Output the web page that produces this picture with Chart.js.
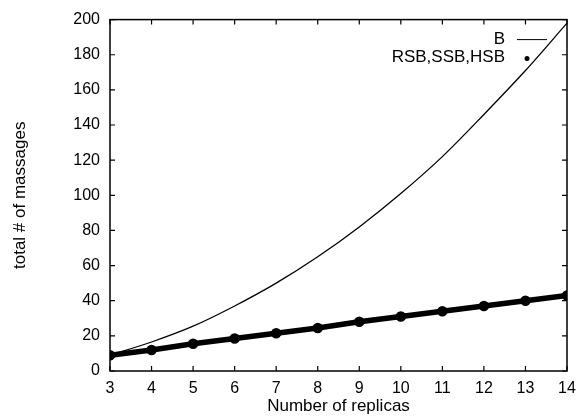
<!DOCTYPE html>
<html>
<head>
<meta charset="utf-8">
<script src="https://cdn.jsdelivr.net/npm/chart.js@4.4.1/dist/chart.umd.min.js"></script>
<style>
  html, body { margin: 0; padding: 0; background: #fff; }
  #wrap { width: 585px; height: 417px; }
</style>
</head>
<body>
<div id="wrap"><canvas id="myChart" width="585" height="417"></canvas></div>
<script>
// replicas on the x axis
var replicas = [3, 4, 5, 6, 7, 8, 9, 10, 11, 12, 13, 14];
// total messages
var bValues = [9, 16.5, 25.5, 37, 50, 65, 82, 101, 122, 146, 171, 198];
var rsbValues = [9, 12, 15.5, 18.5, 21.5, 24.5, 28, 31, 34, 37, 40, 43];
var yTicks = [0, 20, 40, 60, 80, 100, 120, 140, 160, 180, 200];

var seriesNames = ['B', 'RSB,SSB,HSB'];

function toPoints(ys) {
    return replicas.map(function(x, i) { return { x: x, y: ys[i] }; });
}

Chart.defaults.font.family = '"Liberation Sans", Arial, sans-serif';
Chart.defaults.font.size = 16;
Chart.defaults.color = '#000';

// frame, inner tick marks and the little legend at top right
var framePlugin = {
    id: 'frame',
    afterDraw: function(chart) {
        var c = chart.ctx, a = chart.chartArea;
        var xs = chart.scales.x, ys = chart.scales.y;
        var len = 5;
        c.save();
        c.strokeStyle = '#000';
        c.lineWidth = 1.5;
        c.strokeRect(a.left, a.top, a.right - a.left, a.bottom - a.top);
        c.lineWidth = 1.2;
        c.beginPath();
        replicas.forEach(function(v) {
            var px = xs.getPixelForValue(v);
            c.moveTo(px, a.bottom); c.lineTo(px, a.bottom - len);
            c.moveTo(px, a.top); c.lineTo(px, a.top + len);
        });
        yTicks.forEach(function(v) {
            var py = ys.getPixelForValue(v);
            c.moveTo(a.left, py); c.lineTo(a.left + len, py);
            c.moveTo(a.right, py); c.lineTo(a.right - len, py);
        });
        c.stroke();

        // legend
        c.font = '17px "Liberation Sans", Arial, sans-serif';
        c.fillStyle = '#000';
        c.textAlign = 'right';
        c.textBaseline = 'middle';
        var tx = a.right - 62;
        c.fillText(seriesNames[0], tx, a.top + 20);
        c.fillText(seriesNames[1], tx, a.top + 38);
        c.lineWidth = 1;
        c.beginPath();
        c.moveTo(a.right - 50, a.top + 20);
        c.lineTo(a.right - 20, a.top + 20);
        c.stroke();
        c.beginPath();
        c.arc(a.right - 40, a.top + 39, 2.5, 0, Math.PI * 2);
        c.fill();
        c.restore();
    }
};

var ctx = document.getElementById('myChart').getContext('2d');
var myChart = new Chart(ctx, {
    type: 'line',
    data: {
        datasets: [{
            label: seriesNames[0],
            data: toPoints(bValues),
            borderColor: '#000',
            borderWidth: 1.3,
            pointRadius: 0,
            cubicInterpolationMode: 'monotone',
            fill: false
        }, {
            label: seriesNames[1],
            data: toPoints(rsbValues),
            borderColor: '#000',
            backgroundColor: '#000',
            borderWidth: 5.5,
            pointRadius: 2.5,
            pointStyle: 'circle',
            fill: false
        }]
    },
    options: {
        responsive: false,
        animation: false,
        layout: { padding: { top: 13, right: 18, left: 0, bottom: 0 } },
        plugins: {
            legend: { display: false },
            tooltip: { enabled: false }
        },
        scales: {
            x: {
                type: 'linear',
                min: 3,
                max: 14,
                grid: { display: false, drawTicks: false },
                border: { display: false },
                ticks: { stepSize: 1, padding: 8, font: { size: 16 } },
                title: {
                    display: true,
                    text: 'Number of replicas',
                    font: { size: 17 },
                    padding: { top: 0, bottom: 0 }
                },
                afterFit: function(scale) { scale.height = 46; }
            },
            y: {
                min: 0,
                max: 200,
                grid: { display: false, drawTicks: false },
                border: { display: false },
                ticks: { stepSize: 20, padding: 10, font: { size: 16 } },
                title: {
                    display: true,
                    text: 'total # of massages',
                    font: { size: 17 },
                    padding: { top: 10, bottom: 0 }
                },
                afterFit: function(scale) { scale.width = 110; }
            }
        }
    },
    plugins: [framePlugin]
});
</script>
</body>
</html>
